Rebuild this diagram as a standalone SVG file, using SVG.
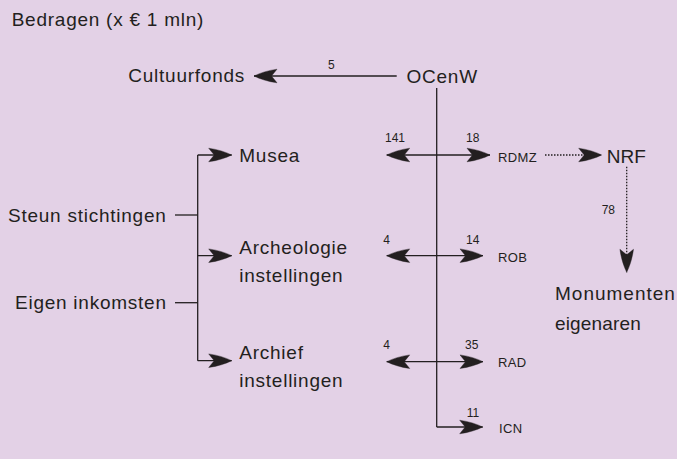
<svg xmlns="http://www.w3.org/2000/svg" width="677" height="459" viewBox="0 0 677 459">
<style>
text{font-family:"Liberation Sans",Arial,sans-serif;fill:#231f20}
.l{font-size:19px;letter-spacing:0.75px}
.s{font-size:13px;letter-spacing:0.4px}
.n{font-size:12px}
.ln{stroke:#231f20;stroke-width:1.3;fill:none}
.dot{stroke:#231f20;stroke-width:1.3;fill:none;stroke-dasharray:1.5 1.5}
</style>
<defs>
<marker id="ah" markerUnits="userSpaceOnUse" orient="auto-start-reverse" refX="0" refY="0" overflow="visible">
<path d="M0,0 C-6,-3 -14,-5.6 -23,-6.8 L-17.5,0 L-23,6.8 C-14,5.6 -6,3 0,0 Z" fill="#231f20" stroke="#231f20" stroke-width="0.4"/>
</marker>
</defs>
<rect width="677" height="459" fill="#e3d1e6"/>
<text class="l" x="11.7" y="26">Bedragen (x € 1 mln)</text>
<g id="ocenw"><text class="l" x="406.5" y="82.5">OCenW</text></g>
<g id="cultuurfonds"><text class="l" x="128.3" y="82.3">Cultuurfonds</text></g>
<g id="steun"><text class="l" x="8" y="221.7">Steun stichtingen</text></g>
<g id="eigen"><text class="l" x="15" y="309">Eigen inkomsten</text></g>
<g id="musea"><text class="l" x="239.3" y="162.3">Musea</text></g>
<g id="archeologie"><text class="l" x="239.3" y="254"><tspan x="239.3">Archeologie</tspan><tspan x="239.3" y="282">instellingen</tspan></text></g>
<g id="archief"><text class="l" x="239.3" y="358.5"><tspan x="239.3">Archief</tspan><tspan x="239.3" y="387">instellingen</tspan></text></g>
<g id="rdmz"><text class="s" x="498" y="162.3">RDMZ</text></g>
<g id="rob"><text class="s" x="498" y="261.7">ROB</text></g>
<g id="rad"><text class="s" x="498" y="366.7">RAD</text></g>
<g id="icn"><text class="s" x="499" y="433.3">ICN</text></g>
<g id="nrf"><text class="l" x="606.7" y="163.3" style="letter-spacing:0">NRF</text></g>
<g id="monumenten"><text class="l" x="555" y="299.5"><tspan x="555" style="letter-spacing:1px">Monumenten</tspan><tspan x="555" y="329.5" style="letter-spacing:0.15px">eigenaren</tspan></text></g>
<g id="connectors">
<line class="ln" x1="396.7" y1="76" x2="254" y2="76" marker-end="url(#ah)"/>
<line class="ln" x1="436.7" y1="88" x2="436.7" y2="427"/>
<line class="ln" x1="436.7" y1="427" x2="482.7" y2="427" marker-end="url(#ah)"/>
<line class="ln" x1="386.7" y1="155" x2="490" y2="155" marker-start="url(#ah)" marker-end="url(#ah)"/>
<line class="ln" x1="386.7" y1="255.7" x2="483" y2="255.7" marker-start="url(#ah)" marker-end="url(#ah)"/>
<line class="ln" x1="386.7" y1="361.7" x2="483" y2="361.7" marker-start="url(#ah)" marker-end="url(#ah)"/>
<line class="dot" x1="545" y1="155" x2="601.7" y2="155" marker-end="url(#ah)"/>
<line class="dot" x1="626.7" y1="166.7" x2="626.7" y2="272.3" marker-end="url(#ah)"/>
<line class="ln" x1="197.7" y1="155" x2="197.7" y2="360.7"/>
<line class="ln" x1="197.7" y1="155" x2="231.7" y2="155" marker-end="url(#ah)"/>
<line class="ln" x1="197.7" y1="255.7" x2="231.7" y2="255.7" marker-end="url(#ah)"/>
<line class="ln" x1="197.7" y1="360.7" x2="231.7" y2="360.7" marker-end="url(#ah)"/>
<line class="ln" x1="175" y1="215" x2="197.7" y2="215"/>
<line class="ln" x1="175" y1="302.7" x2="197.7" y2="302.7"/>
<text class="n" x="328" y="69">5</text>
<text class="n" x="385" y="141.7">141</text>
<text class="n" x="466" y="141.7">18</text>
<text class="n" x="601.7" y="214">78</text>
<text class="n" x="383.3" y="244">4</text>
<text class="n" x="466" y="244">14</text>
<text class="n" x="383.3" y="349.3">4</text>
<text class="n" x="465" y="349.3">35</text>
<text class="n" x="466.7" y="416.7">11</text>
</g>
</svg>
